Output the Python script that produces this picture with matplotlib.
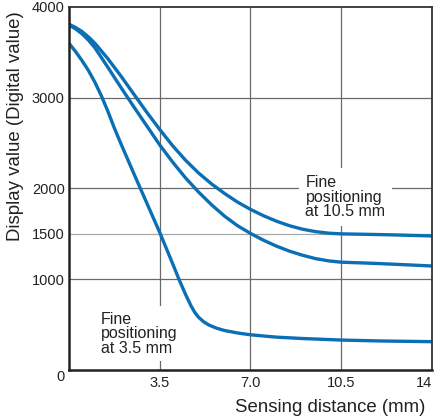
import matplotlib
matplotlib.use("Agg")
import matplotlib.pyplot as plt

plt.rcParams['font.family'] = ['Liberation Sans', 'DejaVu Sans']

# Data (sensing distance in mm, display value)
dist_a = [0.0, 0.25, 0.5, 0.75, 1.0, 1.5, 2.0, 2.5, 3.0, 3.5, 4.0, 4.5, 5.0, 5.5, 6.0, 6.5, 7.0, 7.5, 8.0, 8.5, 9.0, 9.5, 10.0, 10.5, 11.5, 12.5, 14.0]
val_a = [3810, 3775, 3730, 3670, 3600, 3430, 3240, 3040, 2840, 2650, 2470, 2310, 2170, 2050, 1945, 1850, 1770, 1700, 1640, 1590, 1552, 1525, 1508, 1500, 1495, 1489, 1477]

dist_b = [0.0, 0.25, 0.5, 0.75, 1.0, 1.5, 2.0, 2.5, 3.0, 3.5, 4.0, 4.5, 5.0, 5.5, 6.0, 6.5, 7.0, 7.5, 8.0, 8.5, 9.0, 9.5, 10.0, 10.5, 11.5, 12.5, 14.0]
val_b = [3800, 3760, 3705, 3635, 3550, 3335, 3115, 2900, 2690, 2480, 2290, 2115, 1960, 1820, 1695, 1590, 1505, 1430, 1365, 1310, 1265, 1228, 1203, 1188, 1178, 1166, 1146]

dist_c = [0.0, 0.25, 0.5, 0.75, 1.0, 1.25, 1.5, 1.75, 2.0, 2.5, 3.0, 3.5, 4.0, 4.24, 4.5, 4.7, 4.85, 5.0, 5.2, 5.4, 5.7, 6.0, 6.5, 7.0, 8.0, 9.0, 10.5, 12.0, 14.0]
val_c = [3600, 3510, 3410, 3300, 3170, 3020, 2850, 2665, 2495, 2165, 1840, 1515, 1170, 1000, 830, 710, 635, 580, 530, 495, 460, 435, 408, 388, 362, 347, 330, 320, 312]

x_ticks = [3.5, 7.0, 10.5, 14]
x_tick_labels = ["3.5", "7.0", "10.5", "14"]
y_ticks = [0, 1000, 1500, 2000, 3000, 4000]
y_tick_labels = ["0", "1000", "1500", "2000", "3000", "4000"]
x_grid = [3.5, 7.0, 10.5]
y_grid = [1000, 1500, 2000, 3000]

curve_color = "#0b6fb5"
text_color = "#222222"

fig = plt.figure(figsize=(4.35, 4.18), dpi=100)
ax = fig.add_axes([69/435, 48/418, 363/435, 363/418])

ax.set_xlim(0, 14)
ax.set_ylim(0, 4000)

for gx in x_grid:
    ax.axvline(gx, color="#6a6a6a", lw=0.9, zorder=1)
for gy in y_grid:
    ax.axhline(gy, color="#a8a8a8" if gy == 1500 else "#6a6a6a", lw=0.9, zorder=1)

for xs, ys in [(dist_a, val_a), (dist_b, val_b), (dist_c, val_c)]:
    ax.plot(xs, ys, color=curve_color, lw=2.4, solid_capstyle="butt",
            solid_joinstyle="round", zorder=3)

box = dict(facecolor="white", edgecolor="none", pad=4)
ax.text(1.23, 400, "Fine\npositioning\nat 3.5 mm", fontsize=11.5, color=text_color,
        ha="left", va="center", linespacing=0.95, bbox=box, zorder=2)
ax.text(9.12, 1906, "Fine\npositioning\nat 10.5 mm", fontsize=11.5, color=text_color,
        ha="left", va="center", linespacing=0.95,
        bbox=dict(facecolor="white", edgecolor="none", pad=5), zorder=2)

ax.set_xticks(x_ticks)
ax.set_xticklabels(x_tick_labels)
ax.set_yticks(y_ticks)
ax.set_yticklabels(y_tick_labels)
ax.tick_params(length=0, labelsize=10.5, colors=text_color, pad=4)
ax.tick_params(axis="y", pad=3)
ax.get_yticklabels()[0].set_va("top")
ax.get_xticklabels()[-1].set_ha("right")

for side in ["left", "bottom"]:
    ax.spines[side].set_linewidth(1.8)
    ax.spines[side].set_color("#222222")
for side in ["top", "right"]:
    ax.spines[side].set_linewidth(1.3)
    ax.spines[side].set_color("#333333")
for s in ax.spines.values():
    s.set_zorder(4)

ax.set_xlabel("Sensing distance (mm)", fontsize=13.4, color=text_color, ha="center", va="center")
ax.xaxis.set_label_coords((330-69)/363, (370-407)/363)
ax.set_ylabel("Display value (Digital value)", fontsize=13.4, color=text_color, ha="center", va="center")
ax.yaxis.set_label_coords((16-69)/363, (370-126)/363)

fig.savefig("out.png", dpi=100)
